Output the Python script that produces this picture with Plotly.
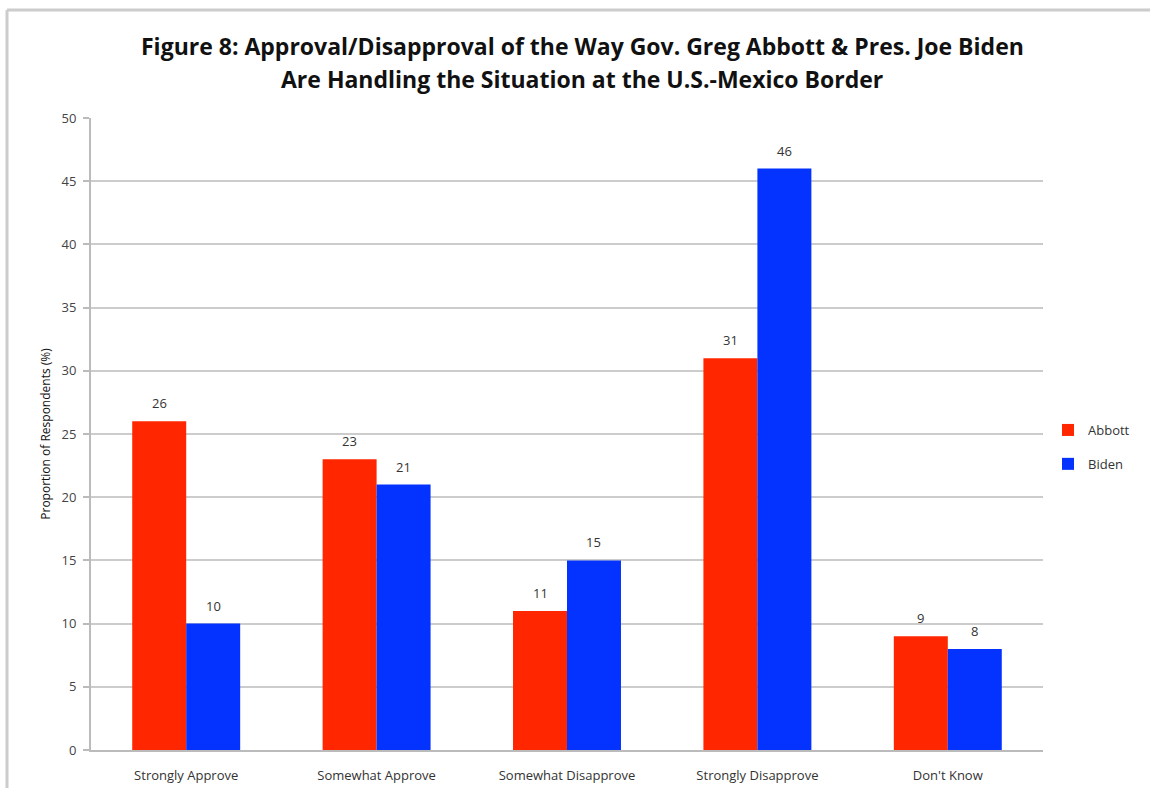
import plotly.graph_objects as go

categories = ["Strongly Approve", "Somewhat Approve", "Somewhat Disapprove",
              "Strongly Disapprove", "Don't Know"]
abbott = [26, 23, 11, 31, 9]
biden = [10, 21, 15, 46, 8]
y_ticks = [0, 5, 10, 15, 20, 25, 30, 35, 40, 45, 50]

W, H = 1150, 788
L, R, T, B = 91, 107, 118, 38
pw, ph = W - L - R, H - T - B

BAR_GAP = 0.433
bar_px = pw / len(categories) * (1 - BAR_GAP) / 2


def px_x(x):
    return (x - L) / pw


def px_y(y):
    return (H - B - y) / ph


base_font = "Open Sans, Lato, sans-serif"
label_font = dict(family=base_font, size=13, color="#333333")

fig = go.Figure()
fig.add_trace(go.Bar(
    name="Abbott", x=categories, y=abbott, legendgroup="a",
    marker=dict(color="#FF2600", line=dict(width=0)),
))
fig.add_trace(go.Bar(
    name="Biden", x=categories, y=biden, legendgroup="b",
    marker=dict(color="#0433FF", line=dict(width=0)),
))

# Value labels above each bar
for vals, side in ((abbott, -1), (biden, 1)):
    for cat, v in zip(categories, vals):
        fig.add_annotation(
            x=cat, y=v, xref="x", yref="y", text=str(v), showarrow=False,
            xshift=side * bar_px / 2, yshift=18, yanchor="middle",
            font=label_font,
        )

# Two-line title
title_font = dict(family="Open Sans, sans-serif", size=23, color="#111111", weight="bold")
for line, y in (("Figure 8: Approval/Disapproval of the Way Gov. Greg Abbott &amp; Pres. Joe Biden", 46),
                ("Are Handling the Situation at the U.S.-Mexico Border", 79)):
    fig.add_annotation(
        text=line, x=px_x(582), y=px_y(y), xref="paper", yref="paper",
        xanchor="center", yanchor="middle", showarrow=False, font=title_font,
    )

# Light frame around the figure (left and top edges)
frame = dict(type="line", xref="paper", yref="paper",
             line=dict(color="#cccccc", width=3), layer="above")
fig.add_shape(**frame, x0=px_x(7), x1=px_x(7), y0=px_y(800), y1=px_y(10))
fig.add_shape(**frame, x0=px_x(7), x1=px_x(1160), y0=px_y(10), y1=px_y(10))

fig.update_layout(
    width=W, height=H,
    margin=dict(l=L, r=R, t=T, b=B, autoexpand=False),
    paper_bgcolor="white", plot_bgcolor="white",
    barmode="group", bargap=BAR_GAP, bargroupgap=0,
    legend=dict(
        x=px_x(1048), xanchor="left", y=px_y(447), yanchor="middle",
        font=dict(family=base_font, size=13, color="#333333"),
        itemsizing="constant", tracegroupgap=14, traceorder="grouped",
        bgcolor="rgba(0,0,0,0)", itemwidth=30,
    ),
    xaxis=dict(
        showline=True, linecolor="#bbbbbb", linewidth=2,
        showgrid=False, ticks="", ticklabelstandoff=12,
        tickfont=dict(family=base_font, size=13, color="#333333"),
    ),
    yaxis=dict(
        range=[0, 50], tickvals=y_ticks, ticktext=[str(v) for v in y_ticks],
        showgrid=True, gridcolor="#cccccc", gridwidth=2,
        showline=True, linecolor="#bbbbbb", linewidth=2,
        ticks="outside", ticklen=6, tickcolor="#bbbbbb", tickwidth=2,
        zeroline=False, ticklabelstandoff=4,
        tickfont=dict(family=base_font, size=13, color="#444444"),
        title=dict(text="Proportion of Respondents (%)", standoff=8,
                   font=dict(family=base_font, size=12, color="#111111")),
    ),
)

fig.write_html("out.html", config={"displayModeBar": False})
